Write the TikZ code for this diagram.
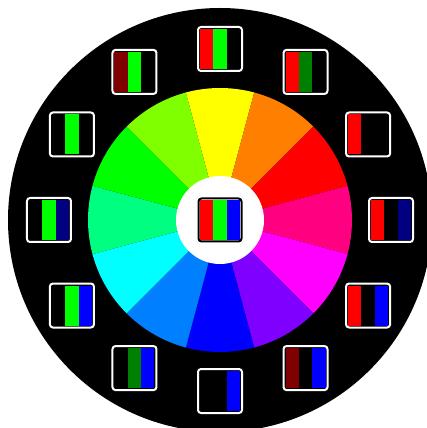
\documentclass[tikz,border=0pt]{standalone}
\usepackage{tikz}

\definecolor{yellowh}{RGB}{255,255,0}
\definecolor{orangeh}{RGB}{255,128,0}
\definecolor{roseh}{RGB}{255,0,128}
\definecolor{magentah}{RGB}{255,0,255}
\definecolor{violeth}{RGB}{128,0,255}
\definecolor{azureh}{RGB}{0,128,255}
\definecolor{cyanh}{RGB}{0,255,255}
\definecolor{springh}{RGB}{0,255,128}
\definecolor{chartreuseh}{RGB}{128,255,0}
\definecolor{redh}{RGB}{255,0,0}
\definecolor{greenh}{RGB}{0,255,0}
\definecolor{blueh}{RGB}{0,0,255}
\definecolor{halfred}{RGB}{128,0,0}
\definecolor{halfgreen}{RGB}{0,128,0}
\definecolor{halfblue}{RGB}{0,0,128}

\tikzset{
  swatchframe/.style={draw=white,line width=2pt,rounded corners=3pt}
}

% sector of the wheel: centre angle, colour
\newcommand{\huesector}[2]{%
  \fill[#2] (0,0) -- (#1-15:132) arc[start angle=#1-15,end angle=#1+15,radius=132] -- cycle;}

% swatch of the three channels: angle, red, green, blue
\newcommand{\chanbox}[4]{%
  \begin{scope}[shift={(#1:171)}]
    \fill[#2] (-20,-20) rectangle (-6.67,20);
    \fill[#3] (-6.67,-20) rectangle (6.67,20);
    \fill[#4] (6.67,-20) rectangle (20,20);
    \draw[swatchframe] (-22,-22) rectangle (22,22);
  \end{scope}}

\begin{document}
\begin{tikzpicture}[x=1pt,y=1pt]
    \useasboundingbox (-220,-208) rectangle (206,220);
    \fill[black] (0,0) circle (212);

    \huesector{90}{yellowh}
    \huesector{60}{orangeh}
    \huesector{30}{redh}
    \huesector{0}{roseh}
    \huesector{-30}{magentah}
    \huesector{-60}{violeth}
    \huesector{-90}{blueh}
    \huesector{-120}{azureh}
    \huesector{-150}{cyanh}
    \huesector{180}{springh}
    \huesector{150}{greenh}
    \huesector{120}{chartreuseh}
    \fill[white] (0,0) circle (44);

    \chanbox{90}{redh}{greenh}{black}
    \chanbox{60}{redh}{halfgreen}{black}
    \chanbox{30}{redh}{black}{black}
    \chanbox{0}{redh}{black}{halfblue}
    \chanbox{-30}{redh}{black}{blueh}
    \chanbox{-60}{halfred}{black}{blueh}
    \chanbox{-90}{black}{black}{blueh}
    \chanbox{-120}{black}{halfgreen}{blueh}
    \chanbox{-150}{black}{greenh}{blueh}
    \chanbox{180}{black}{greenh}{halfblue}
    \chanbox{150}{black}{greenh}{black}
    \chanbox{120}{halfred}{greenh}{black}

    % mixed colour in the middle
    \fill[redh] (-20,-20) rectangle (-6.67,20);
    \fill[greenh] (-6.67,-20) rectangle (6.67,20);
    \fill[blueh] (6.67,-20) rectangle (20,20);
    \draw[swatchframe,draw=black] (-21.5,-21.5) rectangle (21.5,21.5);
\end{tikzpicture}
\end{document}
